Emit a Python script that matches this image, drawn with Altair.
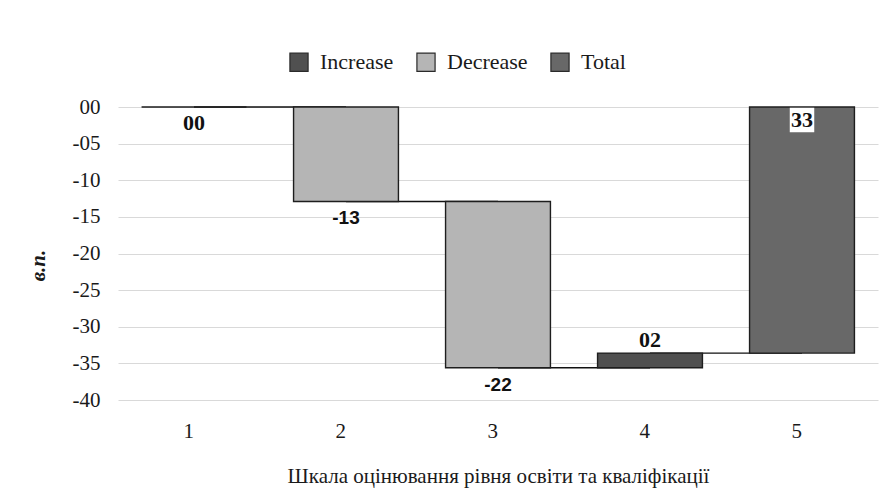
import altair as alt
import pandas as pd

# ---- data ----
categories = ["1", "2", "3", "4", "5"]
steps = [0.0, -12.9, -22.7, 2.0]          # changes for categories 1-4
kinds = ["Increase", "Decrease", "Decrease", "Increase", "Total"]
labels = ["00", "-13", "-22", "02", "33"]
legend_domain = ["Increase", "Decrease", "Total"]
legend_colors = ["#505050", "#b5b5b5", "#686868"]
y_ticks = [0, -5, -10, -15, -20, -25, -30, -35, -40]

SERIF = "Liberation Serif, Times New Roman, DejaVu Serif, serif"
SANS = "Liberation Sans, Arial, DejaVu Sans, sans-serif"

# ---- waterfall table ----
rows = []
running = 0.0
for cat, s, k, lab in zip(categories[:-1], steps, kinds[:-1], labels[:-1]):
    start, end = running, running + s
    running = end
    rows.append(dict(cat=cat, start=start, end=end, kind=k, label=lab))
rows.append(dict(cat=categories[-1], start=0.0, end=running, kind=kinds[-1], label=labels[-1]))
df = pd.DataFrame(rows)


def placement(r):
    if r["kind"] == "Total":
        return "inside"
    if r["end"] > r["start"]:
        return "above"
    return "below"


df["place"] = df.apply(placement, axis=1)
df["anchor"] = df.apply(
    lambda r: min(r["start"], r["end"]) if r["place"] == "below" else max(r["start"], r["end"]), axis=1
)
df["neg"] = df["label"].str.startswith("-")

conn = pd.DataFrame(
    dict(cat=categories[:-1], cat2=categories[1:], level=[rows[i]["end"] for i in range(len(categories) - 1)])
)

x_scale = alt.Scale(domain=categories, paddingInner=0.31, paddingOuter=0.155)
y_scale = alt.Scale(domain=[-40, 0], nice=False, zero=False)

x_enc = alt.X(
    "cat:N",
    scale=x_scale,
    sort=categories,
    axis=alt.Axis(
        title="Шкала оцінювання рівня освіти та кваліфікації",
        labelAngle=0,
        domain=False,
        ticks=False,
        grid=False,
        labelPadding=31,
        titleY=82,
        titleBaseline="alphabetic",
    ),
)

y_axis = alt.Axis(
    title="в.п.",
    values=y_ticks,
    tickCount=9,
    labelOverlap=False,
    labelExpr="(datum.value < 0 ? '-' : '') + (abs(datum.value) < 10 ? '0' : '') + abs(datum.value)",
    domain=False,
    ticks=False,
    grid=True,
    gridColor="#d9d9d9",
    gridWidth=1,
    labelPadding=18,
    titleFontStyle="italic",
    titleFontWeight="bold",
    titleX=-80,
    titleY=158,
    titleAlign="center",
    titleBaseline="middle",
)

rules = alt.Chart(conn).mark_rule(color="#111111", strokeWidth=1.3).encode(
    x=alt.X("cat:N", scale=x_scale, sort=categories),
    x2="cat2:N",
    y=alt.Y("level:Q", scale=y_scale),
)

bars = alt.Chart(df).mark_bar(stroke="#1e1e1e", strokeWidth=1.4).encode(
    x=x_enc,
    y=alt.Y("start:Q", scale=y_scale, axis=y_axis),
    y2="end:Q",
    color=alt.Color(
        "kind:N",
        scale=alt.Scale(domain=legend_domain, range=legend_colors),
        legend=alt.Legend(
            title=None,
            orient="none",
            direction="horizontal",
            legendX=170,
            legendY=-56,
            symbolType="square",
            symbolSize=330,
            symbolStrokeColor="#2a2a2a",
            symbolStrokeWidth=1.2,
            labelFontSize=22,
            labelFont=SERIF,
            labelColor="#1a1a1a",
            labelOffset=10,
            columnPadding=20,
        ),
    ),
)

base_txt = alt.Chart(df).encode(
    x=alt.X("cat:N", scale=x_scale, sort=categories),
    y=alt.Y("anchor:Q", scale=y_scale),
    text="label:N",
)

below_neg = base_txt.transform_filter("datum.place == 'below' && datum.neg").mark_text(
    font=SANS, fontWeight="bold", fontSize=19, dy=17, color="#111111"
)
below_pos = base_txt.transform_filter("datum.place == 'below' && !datum.neg").mark_text(
    font=SERIF, fontWeight="bold", fontSize=22, dy=16, color="#111111"
)
above = base_txt.transform_filter("datum.place == 'above'").mark_text(
    font=SERIF, fontWeight="bold", fontSize=22, dy=-13, color="#111111"
)
inside_box = base_txt.transform_filter("datum.place == 'inside'").mark_square(
    filled=True, color="white", opacity=1, size=600, yOffset=13
)
inside = base_txt.transform_filter("datum.place == 'inside'").mark_text(
    font=SERIF, fontWeight="bold", fontSize=22, dy=13, color="#111111"
)

chart = (
    alt.layer(rules, bars, below_neg, below_pos, above, inside_box, inside)
    .properties(
        width=760,
        height=293,
        autosize=alt.AutoSizeParams(type="none"),
        padding={"left": 110, "top": 99, "right": 3, "bottom": 88},
    )
    .configure_view(stroke=None)
    .configure_axis(
        labelFont=SERIF,
        labelFontSize=21,
        labelColor="#1a1a1a",
        titleFont=SERIF,
        titleFontSize=21,
        titleColor="#1a1a1a",
        titleFontWeight="normal",
    )
)

chart.save("out.html", embed_options={"renderer": "svg", "actions": False})
